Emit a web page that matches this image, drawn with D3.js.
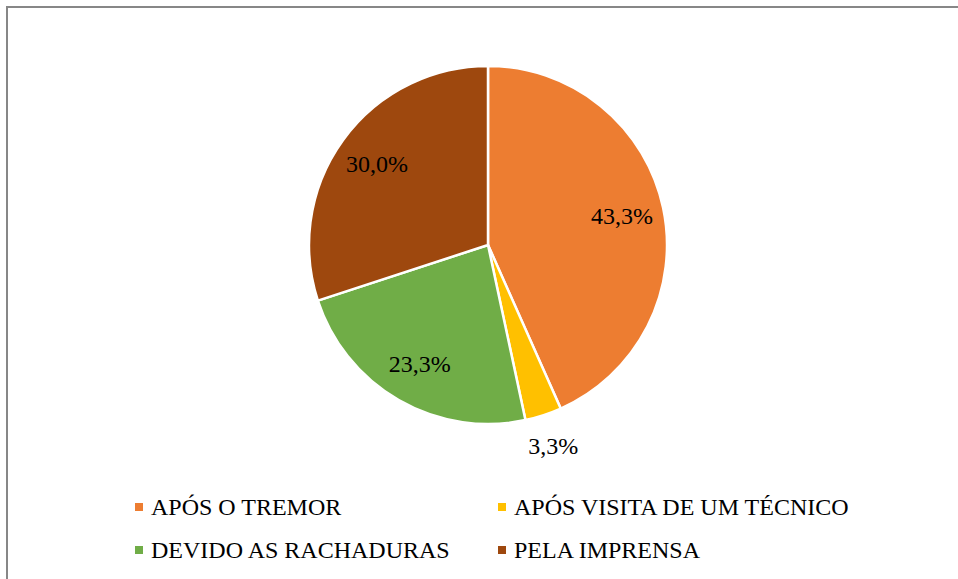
<!DOCTYPE html>
<html>
<head>
<meta charset="utf-8">
<script src="https://cdn.jsdelivr.net/npm/d3@7"></script>
</head>
<body style="margin:0">
<svg id="chart" width="958" height="579"></svg>
<script>
const categories = ["APÓS O TREMOR", "APÓS VISITA DE UM TÉCNICO", "DEVIDO AS RACHADURAS", "PELA IMPRENSA"];
const values = [43.3, 3.3, 23.3, 30.0];
const labels = ["43,3%", "3,3%", "23,3%", "30,0%"];
const colors = ["#ED7D31", "#FFC000", "#70AD47", "#9E480E"];

const FONT = "'Liberation Serif', 'Times New Roman', Tinos, monospace";
const svg = d3.select("#chart");

// chart border (only left & top visible)
svg.append("rect")
  .attr("x", 7).attr("y", 7)
  .attr("width", 1000).attr("height", 1000)
  .attr("fill", "#fff")
  .attr("stroke", "#878787")
  .attr("stroke-width", 2);

const cx = 488, cy = 245, R = 179;
const g = svg.append("g").attr("transform", `translate(${cx},${cy})`);

const pie = d3.pie().sort(null).value(d => d)(values);
const arc = d3.arc().innerRadius(0).outerRadius(R);

g.selectAll("path").data(pie).join("path")
  .attr("d", arc)
  .attr("fill", (d, i) => colors[i])
  .attr("stroke", "#fff")
  .attr("stroke-width", 2.5)
  .attr("stroke-linejoin", "round");

const inArc = d3.arc().innerRadius(137).outerRadius(137);
const outArc = d3.arc().innerRadius(211).outerRadius(211);

g.selectAll("text.lbl").data(pie).join("text")
  .attr("class", "lbl")
  .attr("text-anchor", "middle")
  .attr("dy", "0.33em")
  .attr("font-family", FONT)
  .style("font-family", FONT)
  .attr("font-size", 24)
  .attr("fill", "#000")
  .attr("transform", d => {
    const c = (d.value < 5 ? outArc : inArc).centroid(d);
    return `translate(${c[0]},${c[1]})`;
  })
  .text((d, i) => labels[i]);

// legend
const colX = [135, 498];
const rowY = [507, 550];
categories.forEach((c, i) => {
  const col = i % 2, row = Math.floor(i / 2);
  const x = colX[col], y = rowY[row];
  svg.append("rect")
    .attr("x", x).attr("y", y - 4)
    .attr("width", 8).attr("height", 8)
    .attr("fill", colors[i]);
  svg.append("text")
    .attr("x", x + 16).attr("y", y + 8)
    .attr("font-family", FONT)
    .style("font-family", FONT)
    .attr("font-size", 24)
    .attr("fill", "#000")
    .text(c);
});
</script>
</body>
</html>
